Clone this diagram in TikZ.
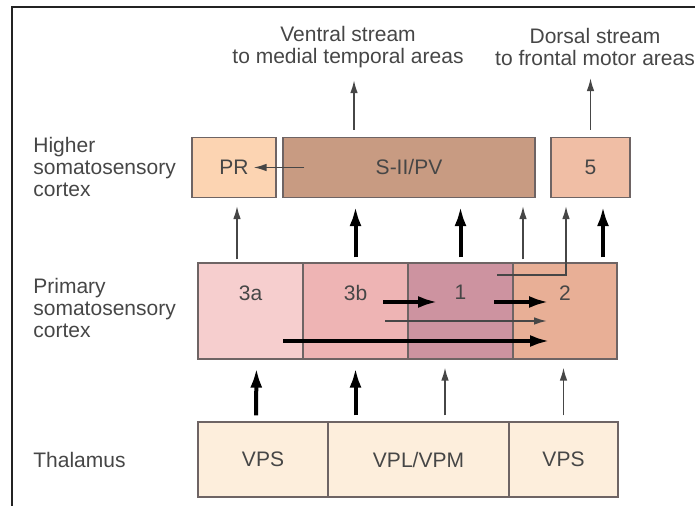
\documentclass[tikz,border=0pt]{standalone}
\usepackage{fontspec}
\setsansfont{Liberation Sans}
\usetikzlibrary{arrows.meta}
\definecolor{ssPeach}{RGB}{252,212,178}
\definecolor{ssBrown}{RGB}{200,155,130}
\definecolor{ssSalmon}{RGB}{240,190,165}
\definecolor{ssPinkA}{RGB}{246,206,206}
\definecolor{ssPinkB}{RGB}{238,180,180}
\definecolor{ssMauve}{RGB}{205,147,160}
\definecolor{ssCoral}{RGB}{232,175,150}
\definecolor{ssCream}{RGB}{253,238,220}
\definecolor{ssEdge}{RGB}{110,100,100}
\definecolor{ssText}{RGB}{70,70,70}
\definecolor{ssArrow}{RGB}{70,70,70}
\definecolor{ssFrame}{RGB}{35,35,35}
\tikzset{
    base/.style={font=\sffamily\fontsize{10.5}{11}\selectfont, text=ssText, align=center},
    area/.style={base, rectangle, draw=ssEdge, line width=0.6pt, inner sep=0pt},
    higher/.style={area, minimum height=30pt},
    primary/.style={area, minimum width=52.5pt, minimum height=48pt},
    nucleus/.style={area, fill=ssCream, minimum height=37.5pt},
    arealbl/.style={base, anchor=north, yshift=-8pt},
    side/.style={base, align=left, anchor=west, inner sep=0pt},
    stream/.style={base, inner sep=0pt},
    thinflow/.style={-{Latex[length=6.5pt,width=3.8pt]}, line width=0.8pt, color=ssArrow},
    boldflow/.style={-{Latex[length=10pt,width=6pt]}, line width=2pt, color=black},
    frame/.style={line width=1pt, color=ssFrame}
}
\begin{document}
\begin{tikzpicture}[x=0.5pt, y=-0.5pt]
  \useasboundingbox (0,0) rectangle (695,506);
  \draw[frame] (12,506) -- (12,7) -- (695,7);

  % Row labels
  \node[side] (higherlbl) at (33,167) {Higher\\somatosensory\\cortex};
  \node[side] (primarylbl) at (33,308) {Primary\\somatosensory\\cortex};
  \node[side] (thallbl) at (33,460) {Thalamus};

  % Output streams
  \node[stream] (ventral) at (348,47) {Ventral stream\\to medial temporal areas};
  \node[stream] (dorsal) at (595,47) {Dorsal stream\\to frontal motor areas};

  % Higher somatosensory cortex
  \node[higher, fill=ssPeach, minimum width=42pt] (pr) at (234,167.5) {PR};
  \node[higher, fill=ssBrown, minimum width=126pt] (sii) at (409,167.5) {S-II/PV};
  \node[higher, fill=ssSalmon, minimum width=39.5pt] (ba5) at (590.5,167.5) {5};

  % Primary somatosensory cortex
  \node[primary, fill=ssPinkA, label={[arealbl]north:3a}] (ba3a) at (250.5,311) {};
  \node[primary, fill=ssPinkB, label={[arealbl]north:3b}] (ba3b) at (355.5,311) {};
  \node[primary, fill=ssMauve, label={[arealbl]north:1}] (ba1) at (460.5,311) {};
  \node[primary, fill=ssCoral, minimum width=52pt, label={[arealbl]north:2}] (ba2) at (565,311) {};

  % Thalamus
  \node[nucleus, minimum width=65pt] (vpsL) at (263,459.5) {VPS};
  \node[nucleus, minimum width=90.5pt] (vpl) at (418.5,459.5) {VPL/VPM};
  \node[nucleus, minimum width=54.5pt] (vpsR) at (563.5,459.5) {VPS};

  % Thalamus -> primary
  \draw[boldflow, shorten <=3pt, shorten >=4pt] ([xshift=-3.5pt]vpsL.north) -- ([xshift=3pt]ba3a.south);
  \draw[boldflow, shorten <=3pt, shorten >=4pt] (vpl.north -| ba3b.south) -- (ba3b.south);
  \draw[thinflow, shorten <=3pt, shorten >=4pt] ([xshift=13.25pt]vpl.north) -- ([xshift=-7.75pt]ba1.south);
  \draw[thinflow, shorten <=3pt, shorten >=4pt] (vpsR.north) -- (vpsR.north |- ba2.south);

  % Inside primary cortex
  \draw[boldflow] ([xshift=13.75pt,yshift=4.5pt]ba3b.center) -- ([xshift=-11.25pt,yshift=4.5pt]ba1.center);
  \draw[boldflow] ([xshift=16.75pt,yshift=4.5pt]ba1.center) -- ([xshift=-8pt,yshift=4.5pt]ba2.center);
  \draw[thinflow] ([xshift=14.75pt,yshift=-5pt]ba3b.center) -- ([xshift=-9pt,yshift=-5pt]ba2.center);
  \draw[boldflow] ([xshift=16.25pt,yshift=-15pt]ba3a.center) -- ([xshift=-7.5pt,yshift=-15pt]ba2.center);

  % Primary -> higher
  \draw[thinflow, shorten <=1.5pt, shorten >=4pt] ([xshift=-6.75pt]ba3a.north) -- ([xshift=1.5pt]pr.south);
  \draw[boldflow, shorten <=2.5pt, shorten >=4pt] (ba3b.north) -- (ba3b.north |- sii.south);
  \draw[boldflow, shorten <=2.5pt, shorten >=4pt] (ba1.north) -- (ba1.north |- sii.south);
  \draw[thinflow, shorten <=1.5pt, shorten >=4pt] ([xshift=-21pt]ba2.north) -- ([xshift=57pt]sii.south);
  \draw[thinflow, shorten >=4pt] ([xshift=18.25pt,yshift=18pt]ba1.center) -| ([xshift=-12.25pt]ba5.south);
  \draw[boldflow, shorten <=2.5pt, shorten >=4pt] ([xshift=19pt]ba2.north) -- ([xshift=6.25pt]ba5.south);

  % Within higher cortex and onward
  \draw[thinflow, shorten >=-11.5pt] ([xshift=11pt]sii.west) -- (pr.east);
  \draw[thinflow, shorten <=3.5pt, shorten >=6pt] ([xshift=-27.5pt]sii.north) -- ([xshift=-27.5pt]sii.north |- ventral.south);
  \draw[thinflow, shorten <=3.5pt, shorten >=6pt] (ba5.north) -- (ba5.north |- dorsal.south);
\end{tikzpicture}
\end{document}
